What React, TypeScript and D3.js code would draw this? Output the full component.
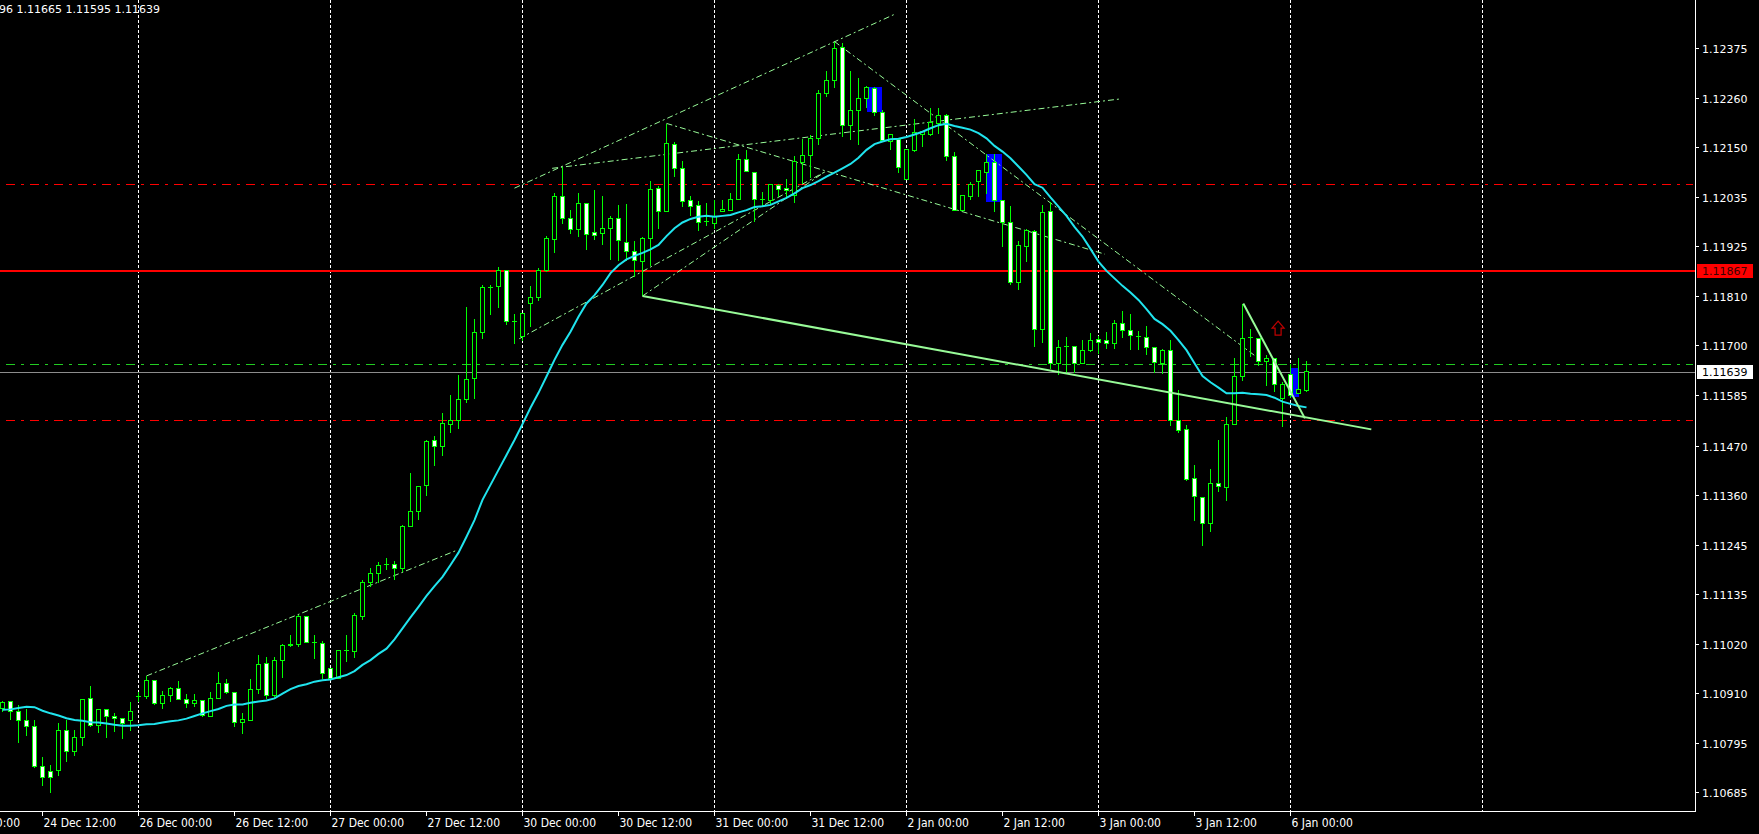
import React from "react";
import * as d3 from "d3";

// ---------- DATA (EURUSD H1) ----------
const opens = [
1.10873,1.10889,1.10868,1.10847,1.10834,1.10743,1.10731,1.10734,1.10825,1.10777,
1.10809,1.10897,1.10836,1.10872,1.10856,1.10852,1.10846,1.10901,1.10901,1.10938,
1.10886,1.10904,1.10919,1.10895,1.10886,1.10893,1.10855,1.10896,1.10930,1.10911,
1.10843,1.10847,1.10918,1.10977,1.10904,1.10983,1.11016,1.11020,1.11083,1.11023,
1.11022,1.10964,1.10943,1.11005,1.11003,1.11082,1.11161,1.11180,1.11201,1.11202,
1.11192,1.11288,1.11322,1.11380,1.11483,1.11469,1.11520,1.11529,1.11576,1.11624,
1.11728,1.11830,1.11832,1.11869,1.11754,1.11719,1.11794,1.11808,1.11870,1.11940,
1.12038,1.11987,1.11962,1.12022,1.11956,1.11953,1.11965,1.11987,1.11933,1.11913,
1.11889,1.11942,1.12056,1.12002,1.12156,1.12101,1.12027,1.12016,1.11980,1.11975,
1.12002,1.12005,1.12031,1.12121,1.12092,1.12031,1.12028,1.12061,1.12056,1.12039,
1.12115,1.12130,1.12168,1.12271,1.12300,1.12376,1.12199,1.12232,1.12260,1.12283,
1.12228,1.12163,1.12167,1.12076,1.12141,1.12177,1.12178,1.12203,1.12220,1.12127,
1.12006,1.12037,1.12071,1.12092,1.12115,1.12027,1.11978,1.11841,1.11923,1.11958,
1.11735,1.12004,1.11658,1.11696,1.11696,1.11658,1.11688,1.11713,1.11709,1.11704,
1.11749,1.11732,1.11719,1.11717,1.11694,1.11658,1.11688,1.11528,1.11508,1.11397,
1.11354,1.11295,1.11386,1.11376,1.11520,1.11628,1.11716,1.11715,1.11663,1.11670,
1.11579,1.11633,1.11590,1.11596];

const highs = [
1.10893,1.10893,1.10884,1.10875,1.10848,1.10766,1.10746,1.10843,1.10848,1.10827,
1.10896,1.10927,1.10873,1.10873,1.10866,1.10852,1.10889,1.10912,1.10948,1.10939,
1.10916,1.10924,1.10937,1.10907,1.10907,1.10893,1.10912,1.10959,1.10943,1.10912,
1.10866,1.10943,1.10996,1.10993,1.10993,1.11021,1.11043,1.11088,1.11084,1.11041,
1.11028,1.10966,1.11006,1.11043,1.11092,1.11168,1.11195,1.11209,1.11218,1.11211,
1.11293,1.11411,1.11381,1.11484,1.11493,1.11547,1.11588,1.11632,1.11788,1.11759,
1.11837,1.11837,1.11877,1.11869,1.11772,1.11772,1.11834,1.11875,1.11949,1.12045,
1.12105,1.12008,1.12047,1.12024,1.12053,1.12040,1.11993,1.12018,1.12020,1.11938,
1.11947,1.12074,1.12061,1.12203,1.12163,1.12118,1.12040,1.12029,1.12024,1.12031,
1.12031,1.12047,1.12134,1.12143,1.12093,1.12049,1.12065,1.12067,1.12078,1.12131,
1.12169,1.12177,1.12279,1.12324,1.12389,1.12386,1.12324,1.12308,1.12290,1.12286,
1.12234,1.12181,1.12172,1.12143,1.12215,1.12186,1.12240,1.12240,1.12226,1.12139,
1.12039,1.12072,1.12097,1.12135,1.12135,1.12031,1.12017,1.11938,1.11965,1.11961,
1.12018,1.12025,1.11713,1.11720,1.11696,1.11713,1.11729,1.11721,1.11730,1.11757,
1.11779,1.11772,1.11732,1.11745,1.11694,1.11692,1.11713,1.11599,1.11520,1.11429,
1.11354,1.11420,1.11484,1.11537,1.11671,1.11794,1.11738,1.11715,1.11677,1.11670,
1.11617,1.11658,1.11672,1.11665];

const lows = [
1.10868,1.10850,1.10796,1.10812,1.10741,1.10699,1.10683,1.10721,1.10753,1.10768,
1.10791,1.10833,1.10819,1.10808,1.10821,1.10805,1.10825,1.10889,1.10896,1.10882,
1.10874,1.10891,1.10895,1.10876,1.10878,1.10855,1.10855,1.10896,1.10907,1.10833,
1.10818,1.10847,1.10909,1.10897,1.10901,1.10945,1.11015,1.11015,1.11025,1.10987,
1.10943,1.10939,1.10943,1.10980,1.10989,1.11077,1.11152,1.11161,1.11189,1.11168,
1.11185,1.11288,1.11304,1.11357,1.11427,1.11448,1.11502,1.11511,1.11569,1.11579,
1.11714,1.11769,1.11784,1.11746,1.11703,1.11711,1.11741,1.11800,1.11866,1.11909,
1.11976,1.11953,1.11947,1.11917,1.11940,1.11929,1.11893,1.11891,1.11892,1.11855,
1.11811,1.11880,1.11965,1.12002,1.12082,1.12014,1.11993,1.11959,1.11970,1.11965,
1.12002,1.12005,1.12031,1.12094,1.11981,1.12014,1.12018,1.12036,1.12033,1.12023,
1.12067,1.12080,1.12156,1.12264,1.12285,1.12174,1.12167,1.12154,1.12240,1.12221,
1.12164,1.12143,1.12091,1.12076,1.12139,1.12150,1.12175,1.12181,1.12118,1.12006,
1.12006,1.12031,1.12037,1.12044,1.12004,1.11923,1.11836,1.11825,1.11889,1.11696,
1.11705,1.11647,1.11632,1.11635,1.11637,1.11658,1.11685,1.11681,1.11692,1.11692,
1.11716,1.11690,1.11690,1.11679,1.11637,1.11635,1.11516,1.11501,1.11393,1.11301,
1.11244,1.11276,1.11368,1.11346,1.11520,1.11619,1.11673,1.11652,1.11607,1.11594,
1.11514,1.11581,1.11590,1.11595];

const closes = [
1.10888,1.10868,1.10847,1.10834,1.10742,1.10718,1.10718,1.10825,1.10777,1.10809,
1.10895,1.10836,1.10872,1.10855,1.10851,1.10840,1.10868,1.10901,1.10938,1.10886,
1.10904,1.10920,1.10895,1.10886,1.10893,1.10859,1.10897,1.10930,1.10910,1.10843,
1.10850,1.10918,1.10974,1.10904,1.10984,1.11016,1.11020,1.11083,1.11025,1.11023,
1.10954,1.10943,1.11006,1.11005,1.11086,1.11161,1.11181,1.11198,1.11201,1.11192,
1.11288,1.11322,1.11379,1.11481,1.11469,1.11521,1.11529,1.11576,1.11622,1.11729,
1.11831,1.11831,1.11868,1.11753,1.11754,1.11772,1.11808,1.11869,1.11942,1.12038,
1.11987,1.11962,1.12022,1.11951,1.11948,1.11965,1.11987,1.11937,1.11912,1.11891,
1.11942,1.12053,1.12002,1.12158,1.12101,1.12025,1.12014,1.11978,1.11980,1.11991,
1.12008,1.12031,1.12121,1.12094,1.12031,1.12031,1.12065,1.12053,1.12051,1.12116,
1.12130,1.12169,1.12271,1.12300,1.12374,1.12199,1.12232,1.12260,1.12285,1.12228,
1.12164,1.12177,1.12103,1.12143,1.12183,1.12184,1.12205,1.12220,1.12127,1.12006,
1.12039,1.12065,1.12095,1.12115,1.12027,1.11978,1.11841,1.11925,1.11959,1.11735,
1.12001,1.11658,1.11695,1.11696,1.11658,1.11688,1.11711,1.11706,1.11704,1.11749,
1.11732,1.11722,1.11719,1.11695,1.11660,1.11688,1.11528,1.11505,1.11395,1.11355,
1.11295,1.11386,1.11378,1.11518,1.11629,1.11715,1.11716,1.11663,1.11670,1.11610,
1.11610,1.11585,1.11599,1.11639];

const maValues = [
1.10871,1.10872,1.10875,1.10878,1.10877,1.10869,1.10863,1.10858,1.10852,1.10848,
1.10846,1.10843,1.10842,1.10840,1.10837,1.10835,1.10835,1.10836,1.10838,1.10839,
1.10842,1.10845,1.10847,1.10851,1.10857,1.10863,1.10868,1.10873,1.10880,1.10883,
1.10883,1.10887,1.10890,1.10892,1.10897,1.10908,1.10918,1.10925,1.10929,1.10935,
1.10938,1.10940,1.10945,1.10950,1.10959,1.10973,1.10984,1.10998,1.11010,1.11031,
1.11056,1.11081,1.11105,1.11130,1.11152,1.11173,1.11200,1.11228,1.11264,1.11302,
1.11348,1.11382,1.11416,1.11450,1.11484,1.11520,1.11557,1.11591,1.11628,1.11666,
1.11700,1.11730,1.11764,1.11794,1.11813,1.11836,1.11863,1.11881,1.11894,1.11902,
1.11909,1.11917,1.11927,1.11947,1.11965,1.11978,1.11986,1.11991,1.11993,1.11991,
1.11993,1.11995,1.12001,1.12006,1.12013,1.12015,1.12018,1.12026,1.12034,1.12044,
1.12056,1.12063,1.12072,1.12082,1.12091,1.12101,1.12111,1.12125,1.12143,1.12156,
1.12162,1.12167,1.12168,1.12172,1.12178,1.12184,1.12192,1.12199,1.12202,1.12197,
1.12193,1.12189,1.12181,1.12169,1.12152,1.12139,1.12124,1.12105,1.12086,1.12065,
1.12057,1.12035,1.12014,1.11993,1.11968,1.11946,1.11918,1.11889,1.11868,1.11851,
1.11834,1.11819,1.11802,1.11781,1.11759,1.11747,1.11732,1.11711,1.11688,1.11658,
1.11629,1.11615,1.11603,1.11590,1.11590,1.11591,1.11589,1.11588,1.11586,1.11580,
1.11571,1.11566,1.11561,1.11558];

const priceTicks = [1.12375,1.1226,1.1215,1.12035,1.11925,1.1181,1.117,1.11585,1.1147,1.1136,1.11245,1.11135,1.1102,1.1091,1.10795,1.10685];
const timeTickIdx = [-7,5,17,29,41,53,65,77,89,101,113,125,137,149,161];
const timeTickLabels = ["24 Dec 00:00","24 Dec 12:00","26 Dec 00:00","26 Dec 12:00","27 Dec 00:00","27 Dec 12:00","30 Dec 00:00","30 Dec 12:00","31 Dec 00:00","31 Dec 12:00","2 Jan 00:00","2 Jan 12:00","3 Jan 00:00","3 Jan 12:00","6 Jan 00:00"];
const gridIdx = [17,41,65,89,113,137,161,185];

const redSolidLevel = 1.11867;
const redDashLevels = [1.12065, 1.11529];
const greenDashLevel = 1.11656;
const bidLevel = 1.11639;
const ohlcText = "1.11596 1.11665 1.11595 1.11639";

// trend lines: [idx1, price1, idx2, price2]
const dashTrends = [
  [18.0, 1.10948, 56.6, 1.11232],
  [64.0, 1.12056, 111.4, 1.12450],
  [68.7, 1.12101, 139.9, 1.12259],
  [83.0, 1.12203, 137.8, 1.11906],
  [104.0, 1.12389, 156.8, 1.11672],
  [64.6, 1.11714, 102.8, 1.12093],
  [80.0, 1.11811, 102.8, 1.12093],
];
const solidTrends = [
  [80.0, 1.11811, 171.1, 1.11508],
  [155.1, 1.11794, 162.8, 1.11533],
];
// highlight boxes: [idx1, idx2, priceTop, priceBottom]
const blueBoxes = [
  [108.0, 109.9, 1.12285, 1.12228],
  [122.95, 124.9, 1.12134, 1.12025],
  [161.0, 162.0, 1.11648, 1.11582],
];
const arrowIdx = 159.45;
const arrowPrice = 1.11754;

// ---------- LAYOUT ----------
const W = 1759, H = 834;
const AXIS_X = 1695.5, AXIS_Y = 811.5;

const x = d3.scaleLinear().domain([0, 163]).range([2.5, 1306.5]);
const y = d3.scaleLinear().domain([1.12375, 1.10685]).range([47.7, 791.7]);
const snap = (v: number) => Math.round(v - 0.5) + 0.5;

const LIME = "#00ff00";
const PALE = "#98fb98";

export default function App() {
  const maLine = d3.line<number>().x((_, i) => x(i)).y((d) => y(d))(maValues) || "";
  const n = opens.length;
  const candles = [];
  for (let i = 0; i < n; i++) {
    const cx = x(i);
    const yO = snap(y(opens[i])), yC = snap(y(closes[i]));
    const yH = snap(y(highs[i])), yL = snap(y(lows[i]));
    const top = Math.min(yO, yC), bot = Math.max(yO, yC);
    const bull = closes[i] >= opens[i];
    candles.push(
      <g key={i}>
        <line x1={cx} x2={cx} y1={yH} y2={yL} stroke={LIME} strokeWidth={1} />
        {bot - top < 1 ? (
          <line x1={cx - 2.5} x2={cx + 2.5} y1={top} y2={top} stroke={LIME} strokeWidth={1} />
        ) : (
          <rect x={cx - 2} y={top} width={4} height={bot - top} fill={bull ? "#000" : "#fff"} stroke={LIME} strokeWidth={1} />
        )}
      </g>
    );
  }
  const ay = y(arrowPrice);
  const ax = x(arrowIdx);
  const arrowPath = `M${ax},${ay} L${ax + 6},${ay + 7} L${ax + 3},${ay + 7} L${ax + 3},${ay + 14} L${ax - 3},${ay + 14} L${ax - 3},${ay + 7} L${ax - 6},${ay + 7} Z`;
  const axisFont = "'DejaVu Sans', Verdana, sans-serif";
  const timeFont = "'Liberation Sans Narrow', 'DejaVu Sans Condensed', 'Arial Narrow', sans-serif";

  return (
    <svg width={W} height={H} style={{ position: "absolute", left: 0, top: 0, background: "#000", display: "block" }} shapeRendering="crispEdges">
      <rect x={0} y={0} width={W} height={H} fill="#000" />
      <defs>
        <clipPath id="plot"><rect x={0} y={0} width={AXIS_X} height={AXIS_Y} /></clipPath>
      </defs>
      <g clipPath="url(#plot)">
        {gridIdx.map((g) => (
          <line key={g} x1={x(g)} x2={x(g)} y1={0} y2={AXIS_Y} stroke="#fff" strokeWidth={1} strokeDasharray="3,2" />
        ))}
        {redDashLevels.map((p) => (
          <line key={p} x1={6} x2={AXIS_X - 3} y1={snap(y(p))} y2={snap(y(p))} stroke="#ff0000" strokeWidth={1} strokeDasharray="9,6,3,6" />
        ))}
        <line x1={6} x2={AXIS_X - 3} y1={snap(y(greenDashLevel))} y2={snap(y(greenDashLevel))} stroke="#22cc22" strokeWidth={1} strokeDasharray="9,6,3,6" />
        <line x1={0} x2={AXIS_X} y1={Math.round(y(bidLevel))} y2={Math.round(y(bidLevel))} stroke="#8c8c8c" strokeWidth={1} />
        <line x1={0} x2={AXIS_X} y1={Math.round(y(redSolidLevel))} y2={Math.round(y(redSolidLevel))} stroke="#ff0000" strokeWidth={2} />
        {blueBoxes.map((b, k) => (
          <rect key={k} x={x(b[0])} y={y(b[2])} width={x(b[1]) - x(b[0])} height={y(b[3]) - y(b[2])} fill="#0000ff" />
        ))}
        {dashTrends.map((t, k) => (
          <line key={k} x1={x(t[0])} y1={y(t[1])} x2={x(t[2])} y2={y(t[3])} stroke={PALE} strokeWidth={1} strokeDasharray="6,3,2,3" shapeRendering="auto" />
        ))}
        {candles}
        <path d={maLine} fill="none" stroke="#20e4ee" strokeWidth={2} shapeRendering="auto" />
        {solidTrends.map((t, k) => (
          <line key={k} x1={x(t[0])} y1={y(t[1])} x2={x(t[2])} y2={y(t[3])} stroke={PALE} strokeWidth={2} shapeRendering="auto" />
        ))}
        <path d={arrowPath} fill="#000" stroke="#c00000" strokeWidth={1.2} shapeRendering="auto" />
        <text x={160} y={13} textAnchor="end" fill="#fff" fontFamily={axisFont} fontSize={11}>{ohlcText}</text>
      </g>
      {/* axes */}
      <line x1={AXIS_X} x2={AXIS_X} y1={0} y2={AXIS_Y} stroke="#fff" strokeWidth={1} />
      <line x1={0} x2={AXIS_X} y1={AXIS_Y} y2={AXIS_Y} stroke="#fff" strokeWidth={1} />
      {priceTicks.map((p) => {
        const yy = Math.round(y(p)) + 0.5;
        return (
          <g key={p}>
            <line x1={AXIS_X} x2={AXIS_X + 3} y1={yy} y2={yy} stroke="#fff" />
            <text x={1702} y={yy + 4} fill="#fff" fontFamily={axisFont} fontSize={11}>{p.toFixed(5)}</text>
          </g>
        );
      })}
      {[{ p: redSolidLevel, bg: "#ff0000", fg: "#3a0000" }, { p: bidLevel, bg: "#ffffff", fg: "#000" }].map((b) => {
        const yy = Math.round(y(b.p));
        return (
          <g key={b.p}>
            <rect x={1697} y={yy - 7} width={56} height={14} fill={b.bg} />
            <text x={1702} y={yy + 4} fill={b.fg} fontFamily={axisFont} fontSize={11}>{b.p.toFixed(5)}</text>
          </g>
        );
      })}
      <g clipPath="url(#timeclip)">
        {timeTickIdx.map((t, k) => {
          const tx = x(t);
          return (
            <g key={t}>
              <line x1={tx} x2={tx} y1={AXIS_Y} y2={AXIS_Y + 4} stroke="#fff" />
              <text x={tx + 1} y={827} fill="#fff" fontFamily={timeFont} fontSize={12}>{timeTickLabels[k]}</text>
            </g>
          );
        })}
      </g>
    </svg>
  );
}
